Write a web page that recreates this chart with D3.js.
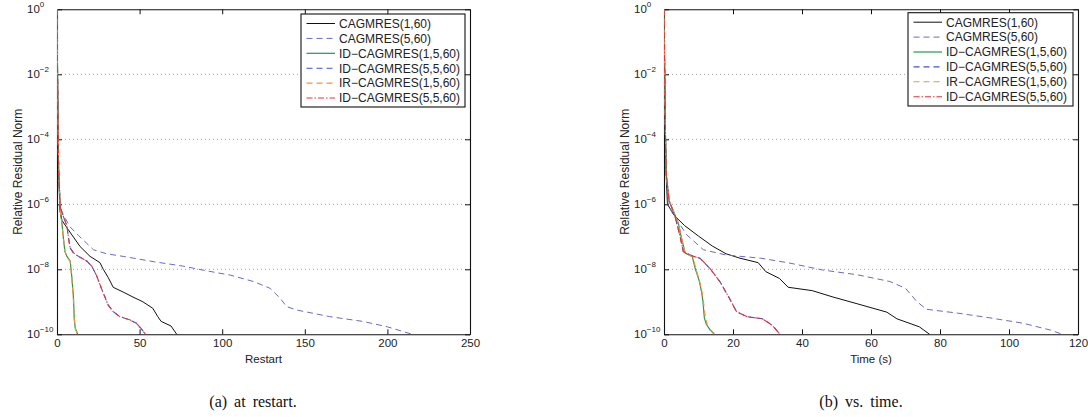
<!DOCTYPE html>
<html>
<head>
<meta charset="utf-8">
<script src="https://cdn.jsdelivr.net/npm/d3@7"></script>
<style>
  html, body { margin: 0; padding: 0; background: #fff; }
  svg { display: block; }
  text { font-family: "Liberation Sans", Arial, Helvetica, sans-serif; fill: #222; }
  .caption { font-family: "Liberation Serif", "Times New Roman", serif; fill: #111; }
</style>
</head>
<body>
<svg id="chart" width="1088" height="417"></svg>
<script>
// ---------------- Data ----------------
const seriesNames = ["CAGMRES(1,60)", "CAGMRES(5,60)", "ID\u2212CAGMRES(1,5,60)", "ID\u2212CAGMRES(5,5,60)", "IR\u2212CAGMRES(1,5,60)", "ID\u2212CAGMRES(5,5,60)"];
const yTickValues = [1, 1e-2, 1e-4, 1e-6, 1e-8, 1e-10];
const yTickExponents = ["0", "\u22122", "\u22124", "\u22126", "\u22128", "\u221210"];
const xTicksRestart = [0, 50, 100, 150, 200, 250];
const xTicksTime = [0, 20, 40, 60, 80, 100, 120];

// (a) residual vs restart
const restart_cag1_x = [0, 0.5, 1, 1.8, 3, 7, 14, 20, 26, 28, 31, 34, 40, 46, 52, 58, 61, 63, 69, 72.5];
const restart_cag1_y = [1, 1e-3, 1e-5, 6.3e-7, 3.2e-7, 1.6e-7, 5.0e-8, 2.5e-8, 1.6e-8, 1.0e-8, 5.6e-9, 2.8e-9, 2.0e-9, 1.4e-9, 1.0e-9, 6.3e-10, 3.5e-10, 2.5e-10, 1.8e-10, 1e-10];
const restart_cag5_x = [0, 0.5, 1, 2, 4, 8, 13, 18, 22, 30, 40, 59, 76, 90, 105, 119, 129, 135, 139, 145, 165, 185, 200, 215];
const restart_cag5_y = [1, 1e-3, 1e-5, 7.9e-7, 4.5e-7, 2.0e-7, 1.1e-7, 6.3e-8, 4.0e-8, 3.0e-8, 2.5e-8, 1.7e-8, 1.26e-8, 9.1e-9, 6.6e-9, 4.2e-9, 2.6e-9, 1.3e-9, 7.1e-10, 5.6e-10, 3.5e-10, 2.5e-10, 1.7e-10, 1e-10];
const restart_id1_x = [0, 0.5, 1, 2, 3, 4, 4.8, 6, 8, 9, 10, 10.4, 11, 12.5];
const restart_id1_y = [1, 1e-3, 1e-5, 6.3e-7, 2.5e-7, 7.9e-8, 3.5e-8, 2.5e-8, 1.8e-8, 5.6e-9, 1.3e-9, 3.2e-10, 1.6e-10, 1e-10];
const restart_id5_x = [0, 0.5, 1, 2, 4, 6, 7, 8, 10, 13, 18, 21, 24, 27, 31, 34, 38, 44, 48, 51, 53.5];
const restart_id5_y = [1, 1e-3, 1e-5, 7.9e-7, 4.0e-7, 2.2e-7, 8.9e-8, 4.5e-8, 3.2e-8, 2.5e-8, 1.8e-8, 1.26e-8, 6.3e-9, 2.5e-9, 7.9e-10, 5.0e-10, 3.5e-10, 2.8e-10, 2.2e-10, 1.5e-10, 1e-10];
const restart_ir1_x = [0, 0.5, 1, 2, 3, 4, 4.8, 6, 8, 9, 9.9, 10.5, 11.2, 12.7];
const restart_ir1_y = [1, 1e-3, 1e-5, 6.3e-7, 2.5e-7, 7.9e-8, 3.5e-8, 2.4e-8, 1.7e-8, 5.0e-9, 1.1e-9, 2.8e-10, 1.4e-10, 1e-10];
const restart_id5b_x = [0, 0.5, 1, 2, 4, 6, 7, 8, 10, 13, 18, 21, 24, 27, 31, 34, 38, 44, 48, 51, 53.5];
const restart_id5b_y = [1, 1e-3, 1e-5, 7.9e-7, 4.0e-7, 2.2e-7, 8.9e-8, 4.5e-8, 3.2e-8, 2.5e-8, 1.8e-8, 1.26e-8, 6.3e-9, 2.5e-9, 7.9e-10, 5.0e-10, 3.5e-10, 2.8e-10, 2.2e-10, 1.5e-10, 1e-10];

// (b) residual vs time (s)
const time_cag1_x = [0, 0.3, 0.6, 1, 3, 6, 10, 14, 18, 22, 27.3, 29.5, 33.5, 36, 43, 49, 56, 64.6, 67.5, 74, 77];
const time_cag1_y = [1, 1e-3, 1e-5, 1e-6, 4.5e-7, 2.2e-7, 1.05e-7, 5.2e-8, 3.0e-8, 2.2e-8, 1.6e-8, 8.5e-9, 5.2e-9, 2.8e-9, 2.2e-9, 1.4e-9, 8.7e-10, 4.8e-10, 3.0e-10, 1.7e-10, 1e-10];
const time_cag5_x = [0, 0.3, 0.6, 1.2, 2.7, 6.6, 11.4, 18, 28, 36.5, 46, 56, 65.5, 70, 73.3, 76, 85, 94.5, 104, 112, 115.5];
const time_cag5_y = [1, 1e-3, 1e-5, 1e-6, 4.7e-7, 1.15e-7, 4.0e-8, 2.75e-8, 2.2e-8, 1.55e-8, 9.5e-9, 6.8e-9, 4.2e-9, 2.6e-9, 1.02e-9, 5.9e-10, 4.5e-10, 3.2e-10, 2.2e-10, 1.35e-10, 1e-10];
const time_id1_x = [0, 0.3, 0.6, 1.5, 2.7, 4.2, 5, 6.1, 8.2, 9, 10.2, 10.9, 11.3, 11.7, 12.3, 13.3, 14.6];
const time_id1_y = [1, 1e-3, 1e-5, 1.26e-6, 6.3e-7, 2.5e-7, 1e-7, 3.2e-8, 2.45e-8, 1.1e-8, 4.5e-9, 2.0e-9, 1e-9, 3.2e-10, 2.0e-10, 1.4e-10, 1e-10];
const time_id5_x = [0, 0.3, 0.6, 1.5, 3.2, 4.6, 5.6, 8.5, 10.4, 13.3, 16.2, 19, 21, 24, 28.5, 30.5, 32, 33.6];
const time_id5_y = [1, 1e-3, 1e-5, 1.26e-6, 4.2e-7, 1.1e-7, 3.5e-8, 2.5e-8, 2.2e-8, 1.07e-8, 4.2e-9, 1.26e-9, 5.0e-10, 3.5e-10, 3.0e-10, 2.2e-10, 1.6e-10, 1e-10];
const time_ir1_x = [0, 0.3, 0.6, 1.5, 2.7, 4.2, 5, 6.1, 8.4, 9.2, 10.4, 11.1, 11.5, 12, 12.6, 13.6, 14.8];
const time_ir1_y = [1, 1e-3, 1e-5, 1.26e-6, 6.3e-7, 2.5e-7, 1e-7, 3.2e-8, 2.4e-8, 1.07e-8, 4.0e-9, 1.8e-9, 9e-10, 3.2e-10, 1.9e-10, 1.35e-10, 1e-10];
const time_id5b_x = [0, 0.3, 0.6, 1.5, 3.2, 4.6, 5.6, 8.5, 10.4, 13.3, 16.2, 19, 21, 24, 28.5, 30.5, 32, 33.6];
const time_id5b_y = [1, 1e-3, 1e-5, 1.26e-6, 4.2e-7, 1.1e-7, 3.5e-8, 2.5e-8, 2.2e-8, 1.07e-8, 4.2e-9, 1.26e-9, 5.0e-10, 3.5e-10, 3.0e-10, 2.2e-10, 1.6e-10, 1e-10];

// ---------------- Styles ----------------
const seriesStyles = [
  { color: "#111111", dash: null, width: 1 },
  { color: "#6a6ac4", dash: "6,4", width: 1 },
  { color: "#1e9a4a", dash: null, width: 1.2 },
  { color: "#3d55c8", dash: "6,4", width: 1.1 },
  { color: "#f5933a", dash: "6,4", width: 1.1 },
  { color: "#e8323a", dash: "6,2,1.5,2", width: 1.1 }
];

const svg = d3.select("#chart");

function drawPanel(cfg) {
  const { left, right, top, bottom, xMax, xTicks, xLabel, series, caption, capX, legend } = cfg;
  const x = d3.scaleLinear().domain([0, xMax]).range([left, right]);
  const y = d3.scaleLog().domain([1e-10, 1]).range([bottom, top]);
  const g = svg.append("g");

  const clipId = "clip" + left;
  svg.append("clipPath").attr("id", clipId).append("rect")
    .attr("x", left).attr("y", top).attr("width", right - left).attr("height", bottom - top);

  // grid (dotted, horizontal only)
  g.append("g").selectAll("line").data(yTickValues.slice(1, -1)).join("line")
    .attr("x1", left).attr("x2", right)
    .attr("y1", d => y(d)).attr("y2", d => y(d))
    .attr("stroke", "#8a8a8a").attr("stroke-width", 0.8).attr("stroke-dasharray", "1,3");

  // axes
  const axB = g.append("g").attr("transform", `translate(0,${bottom})`)
    .call(d3.axisBottom(x).tickValues(xTicks).tickSizeInner(-5).tickSizeOuter(0).tickPadding(5));
  const axT = g.append("g").attr("transform", `translate(0,${top})`)
    .call(d3.axisTop(x).tickValues(xTicks).tickSizeInner(-5).tickSizeOuter(0).tickFormat(""));
  const axL = g.append("g").attr("transform", `translate(${left},0)`)
    .call(d3.axisLeft(y).tickValues(yTickValues).tickSizeInner(-5).tickSizeOuter(0).tickFormat(""));
  const axR = g.append("g").attr("transform", `translate(${right},0)`)
    .call(d3.axisRight(y).tickValues(yTickValues).tickSizeInner(-5).tickSizeOuter(0).tickFormat(""));
  [axB, axT, axL, axR].forEach(a => {
    a.select(".domain").attr("stroke", "#111").attr("stroke-width", 1.1);
    a.selectAll(".tick line").attr("stroke", "#111");
  });
  axB.selectAll(".tick text").attr("font-size", 11.5).attr("fill", "#222")
    .attr("font-family", "Liberation Sans, Arial, sans-serif");

  // y tick labels 10^k
  const yl = g.append("g").selectAll("text").data(yTickValues).join("text")
    .attr("x", left - 30).attr("y", d => y(d) + 4)
    .attr("font-size", 11.5);
  yl.append("tspan").text("10");
  yl.append("tspan").attr("dy", -6).attr("font-size", 8).text((d, i) => yTickExponents[i]);

  // lines
  const line = d3.line().x(d => x(d[0])).y(d => y(d[1]));
  const lg = g.append("g").attr("clip-path", `url(#${clipId})`);
  series.forEach((s, i) => {
    const st = seriesStyles[i];
    const pts = s.x.map((v, k) => [v, s.y[k]]);
    lg.append("path").datum(pts).attr("d", line)
      .attr("fill", "none").attr("stroke", st.color).attr("stroke-width", st.width)
      .attr("stroke-dasharray", st.dash).attr("stroke-linejoin", "round");
  });

  // labels
  g.append("text").attr("x", (left + right) / 2).attr("y", 363).attr("text-anchor", "middle")
    .attr("font-size", 11.5).text(xLabel);
  g.append("text").attr("transform", `translate(${left - 35},${(top + bottom) / 2}) rotate(-90)`)
    .attr("text-anchor", "middle").attr("font-size", 12).text("Relative Residual Norm");
  g.append("text").attr("class", "caption").attr("x", capX).attr("y", 407)
    .attr("text-anchor", "middle").attr("font-size", 16).attr("word-spacing", 3).text(caption);

  // legend
  const L = legend;
  g.append("rect").attr("x", L.x).attr("y", L.y).attr("width", L.w).attr("height", L.h)
    .attr("fill", "#fff").attr("stroke", "#111").attr("stroke-width", 1.1);
  seriesNames.forEach((name, i) => {
    const st = seriesStyles[i];
    const yy = L.y + 9.5 + i * 14.9;
    g.append("line").attr("x1", L.x + 5.5).attr("x2", L.x + 34).attr("y1", yy).attr("y2", yy)
      .attr("stroke", st.color).attr("stroke-width", st.width).attr("stroke-dasharray", st.dash);
    g.append("text").attr("x", L.x + 38).attr("y", yy + 4.3).attr("font-size", 12).text(name);
  });
}

drawPanel({
  left: 57, right: 470, top: 9.3, bottom: 334.3, xMax: 250, xTicks: xTicksRestart,
  xLabel: "Restart", caption: "(a) at restart.", capX: 253,
  legend: { x: 301, y: 14, w: 164, h: 93 },
  series: [
    { x: restart_cag1_x, y: restart_cag1_y },
    { x: restart_cag5_x, y: restart_cag5_y },
    { x: restart_id1_x, y: restart_id1_y },
    { x: restart_id5_x, y: restart_id5_y },
    { x: restart_ir1_x, y: restart_ir1_y },
    { x: restart_id5b_x, y: restart_id5b_y }
  ]
});

drawPanel({
  left: 664, right: 1078, top: 9.3, bottom: 334.3, xMax: 120, xTicks: xTicksTime,
  xLabel: "Time (s)", caption: "(b) vs. time.", capX: 861,
  legend: { x: 908, y: 12.7, w: 165, h: 93.3 },
  series: [
    { x: time_cag1_x, y: time_cag1_y },
    { x: time_cag5_x, y: time_cag5_y },
    { x: time_id1_x, y: time_id1_y },
    { x: time_id5_x, y: time_id5_y },
    { x: time_ir1_x, y: time_ir1_y },
    { x: time_id5b_x, y: time_id5b_y }
  ]
});
</script>
</body>
</html>
